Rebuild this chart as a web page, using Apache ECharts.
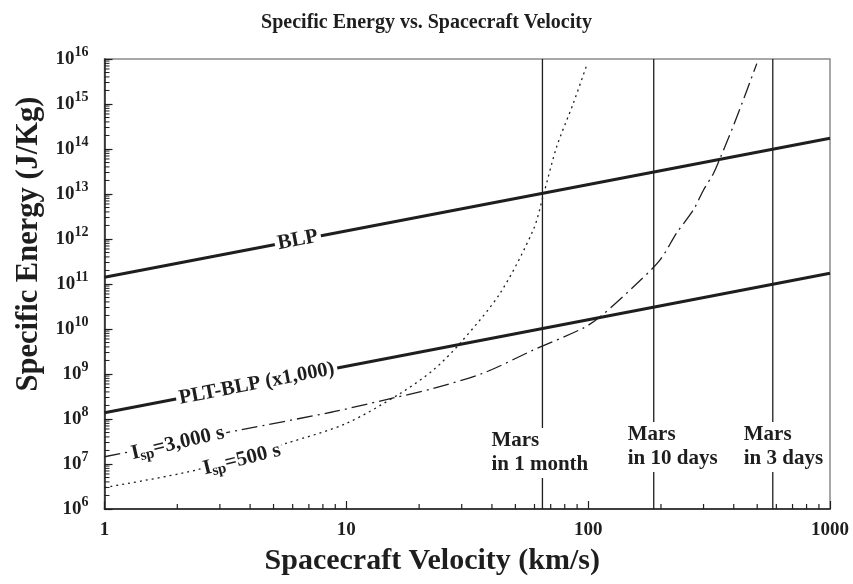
<!DOCTYPE html>
<html>
<head>
<meta charset="utf-8">
<script src="https://cdn.jsdelivr.net/npm/echarts@6/dist/echarts.min.js"></script>
<style>html,body{margin:0;padding:0;background:#fff}#c{width:853px;height:584px}</style>
</head>
<body>
<div id="c"></div>
<script>
// ---- data ----
const xTicks = [1, 10, 100, 1000];
const yTicks = [1e6, 1e7, 1e8, 1e9, 1e10, 1e11, 1e12, 1e13, 1e14, 1e15, 1e16];
const xMinorTicks = [2,3,4,5,6,7,8,9,20,30,40,50,60,70,80,90,200,300,400,500,600,700,800,900];
const yMinorTicks = [];
for (let e = 6; e < 16; e++) for (let m = 2; m <= 9; m++) yMinorTicks.push(m * Math.pow(10, e));

const blp = [[1, 1.41e11], [1000, 1.73e14]];
const pltBlp = [[1, 1.38e8], [1000, 1.73e11]];
const isp500 = [
  [1, 3.0e6], [2.41, 7.4e6], [5.67, 2.9e7], [10, 8.0e7], [16.7, 3.7e8], [22.9, 1.23e9],
  [29.5, 4.8e9], [43.2, 6.2e10], [59.3, 1.6e12], [65.3, 9.5e12], [74.1, 1.12e14],
  [86.9, 1.05e15], [98.7, 7.4e15]
];
const isp3000 = [
  [1, 1.45e7], [3.64, 5.7e7], [8.84, 1.45e8], [14.2, 2.6e8], [22.9, 4.8e8], [36.9, 1.05e9],
  [59.3, 3.4e9], [95.5, 1.05e10], [112, 1.86e10], [154, 8.7e10], [198, 3.4e11],
  [232, 1.35e12], [272, 4.4e12], [300, 1.23e13], [330, 2.9e13], [351, 6.2e13],
  [398, 3.2e14], [453, 2.0e15], [498, 7.9e15]
];
const marsV = [64.7, 186.7, 580];
const marsText = ['Mars\nin 1 month', 'Mars\nin 10 days', 'Mars\nin 3 days'];

// ---- styles ----
const FONT = "'Liberation Serif', 'Times New Roman', serif";
const INK = '#1e1e1e';
const X_MIN = 1, Y_MIN = 1e6;

const marsSeries = marsV.map(v => ({
  type: 'line', data: [[v, 1e6], [v, 1e16]], symbol: 'none', silent: true,
  lineStyle: { color: INK, width: 1.3 }, z: 2
}));

const option = {
  animation: false,
  backgroundColor: '#fff',
  title: {
    text: 'Specific Energy vs. Spacecraft Velocity',
    left: 'center', top: 8,
    textStyle: { fontFamily: FONT, fontWeight: 'bold', fontSize: 20, color: INK }
  },
  grid: { left: 104.5, right: 23, top: 59, bottom: 75, show: true, borderColor: '#8a8a8a', borderWidth: 1.5, backgroundColor: 'transparent' },
  xAxis: {
    type: 'log', logBase: 10, min: 1, max: 1000,
    name: 'Spacecraft Velocity (km/s)', nameLocation: 'middle', nameGap: 37,
    nameTextStyle: { fontFamily: FONT, fontWeight: 'bold', fontSize: 30, color: INK, padding: [0, 70, 0, 0] },
    axisLine: { show: true, lineStyle: { color: INK, width: 1.5 } },
    axisTick: { show: true, inside: true, length: 8, customValues: xTicks, lineStyle: { color: INK, width: 1.2 } },
    axisLabel: { show: true, margin: 12, customValues: xTicks, formatter: v => String(Math.round(v)),
      fontFamily: FONT, fontWeight: 'bold', fontSize: 19, color: INK },
    splitLine: { show: false }
  },
  yAxis: {
    type: 'log', logBase: 10, min: 1e6, max: 1e16,
    name: 'Specific Energy (J/Kg)', nameLocation: 'middle', nameGap: 60,
    nameTextStyle: { fontFamily: FONT, fontWeight: 'bold', fontSize: 30.5, color: INK, padding: [0, 0, 0, 80] },
    axisLine: { show: true, lineStyle: { color: INK, width: 1.5 } },
    axisTick: { show: true, inside: true, length: 8, customValues: yTicks, lineStyle: { color: INK, width: 1.2 } },
    axisLabel: {
      show: true, margin: 16, customValues: yTicks,
      formatter: v => '{b|10}{s|' + Math.round(Math.log10(v)) + '}',
      rich: {
        b: { fontFamily: FONT, fontWeight: 'bold', fontSize: 19, color: INK, lineHeight: 28 },
        s: { fontFamily: FONT, fontWeight: 'bold', fontSize: 14, color: INK, lineHeight: 14, verticalAlign: 'top' }
      }
    },
    splitLine: { show: false }
  },
  series: [
    { name: 'BLP', type: 'line', data: blp, symbol: 'none', lineStyle: { color: INK, width: 3 }, z: 3 },
    { name: 'PLT-BLP (x1,000)', type: 'line', data: pltBlp, symbol: 'none', lineStyle: { color: INK, width: 3 }, z: 3 },
    { name: 'Isp=500 s', type: 'line', data: isp500, symbol: 'none', smooth: 0.3,
      lineStyle: { color: INK, width: 1.3, type: [2, 4] }, z: 3 },
    { name: 'Isp=3,000 s', type: 'line', data: isp3000, symbol: 'none', smooth: 0.3,
      lineStyle: { color: INK, width: 1.3, type: [16, 5, 2, 5] }, z: 3 }
  ].concat(marsSeries)
};

const chart = echarts.init(document.getElementById('c'), null, { renderer: 'canvas' });
chart.setOption(option);

function px(p) { return chart.convertToPixel({ xAxisIndex: 0, yAxisIndex: 0 }, p); }
function angleOf(a, b) { const p = px(a), q = px(b); return -Math.atan2(q[1] - p[1], q[0] - p[0]); }

const baseText = { fontFamily: FONT, fontWeight: 'bold', fill: INK };
const graphics = [];

// minor ticks, positioned through the axes' scales
xMinorTicks.forEach(v => {
  const p = px([v, Y_MIN]);
  graphics.push({ type: 'line', z: 50, silent: true,
    shape: { x1: p[0], y1: p[1], x2: p[0], y2: p[1] - 5 },
    style: { stroke: INK, lineWidth: 1.2 } });
});
yMinorTicks.forEach(v => {
  const p = px([X_MIN, v]);
  graphics.push({ type: 'line', z: 50, silent: true,
    shape: { x1: p[0], y1: p[1], x2: p[0] + 5, y2: p[1] },
    style: { stroke: INK, lineWidth: 1 } });
});

// line labels (placed on the curves, covering them with white)
const lineLabels = [
  { text: 'BLP', at: [6.3, 9.5e11], line: blp, size: 21 },
  { text: 'PLT-BLP (x1,000)', at: [4.26, 6.1e8], line: pltBlp, size: 20.5 }
];
lineLabels.forEach(l => {
  const p = px(l.at);
  graphics.push({
    type: 'text', x: p[0], y: p[1], rotation: angleOf(l.line[0], l.line[1]), z: 100,
    style: Object.assign({}, baseText, { text: l.text, fontSize: l.size, align: 'center', verticalAlign: 'middle',
      backgroundColor: '#fff', padding: [0, 3] })
  });
});

// Isp labels with subscript
const ispLabels = [
  { rest: '=3,000 s', at: [2.01, 2.9e7], rot: 13 },
  { rest: '=500 s', at: [3.7, 1.25e7], rot: 14 }
];
ispLabels.forEach(l => {
  const p = px(l.at);
  graphics.push({
    type: 'text', x: p[0], y: p[1], rotation: l.rot * Math.PI / 180, z: 100,
    style: {
      text: '{a|I}{b|sp}{a|' + l.rest + '}', align: 'center', verticalAlign: 'middle',
      backgroundColor: '#fff', padding: [0, 2],
      rich: {
        a: Object.assign({}, baseText, { fontSize: 21, lineHeight: 24 }),
        b: Object.assign({}, baseText, { fontSize: 15, lineHeight: 14, verticalAlign: 'bottom' })
      }
    }
  });
});

// Mars labels
const marsLabelPos = [[1.75e7, -53], [2.4e7, -28], [2.4e7, -31]];
marsV.forEach((v, i) => {
  const p = px([v, marsLabelPos[i][0]]);
  graphics.push({
    type: 'text', x: p[0] + marsLabelPos[i][1], y: p[1], z: 100,
    style: Object.assign({}, baseText, { text: marsText[i], fontSize: 21, lineHeight: 24,
      align: 'left', verticalAlign: 'middle', backgroundColor: '#fff', padding: [1, 2] })
  });
});

chart.setOption({ graphic: { elements: graphics } });
</script>
</body>
</html>
